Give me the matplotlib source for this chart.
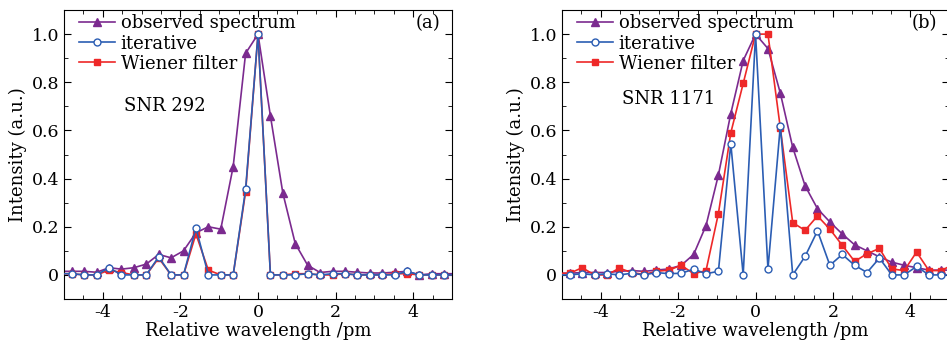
import matplotlib
matplotlib.use('Agg')
import matplotlib.pyplot as plt
import numpy as np
from matplotlib.ticker import MultipleLocator, FuncFormatter

plt.rcParams['font.family'] = 'DejaVu Serif'
plt.rcParams['mathtext.fontset'] = 'dejavuserif'

# sample grid: step 0.32 pm, k = -16..16
wl = np.arange(-16, 17) * 0.32

# panel (a), SNR 292
obs_a = [0.015, 0.015, 0.015, 0.011, 0.03, 0.024, 0.03, 0.045, 0.085, 0.071, 0.10, 0.175, 0.20, 0.19,
         0.45, 0.92, 1.0, 0.66, 0.34, 0.13, 0.04, 0.01, 0.015, 0.015, 0.011, 0.008, 0.008, 0.011,
         0.015, 0.0, 0.005, 0.005, 0.005]
itr_a = [0.005, 0.005, 0.0, 0.0, 0.03, 0.0, 0.0, 0.0, 0.075, 0.0, 0.0, 0.195, 0.0, 0.0,
         0.0, 0.355, 1.0, 0.0, 0.0, 0.0, 0.005, 0.0, 0.005, 0.005, 0.0, 0.0, 0.0, 0.0,
         0.015, 0.0, 0.0, 0.0, 0.0]
wie_a = [0.005, 0.005, 0.0, 0.0, 0.02, 0.01, 0.0, 0.0, 0.07, 0.0, 0.0, 0.17, 0.02, 0.0,
         0.0, 0.345, 1.0, 0.0, 0.0, 0.005, 0.005, 0.0, 0.0, 0.005, 0.0, 0.0, 0.0, 0.005,
         0.005, 0.0, 0.0, 0.0, 0.0]

# panel (b), SNR 1171
obs_b = [0.007, 0.007, 0.01, 0.01, 0.01, 0.015, 0.018, 0.015, 0.02, 0.025, 0.04, 0.085, 0.205, 0.415,
         0.67, 0.89, 1.0, 0.94, 0.755, 0.53, 0.37, 0.275, 0.22, 0.17, 0.125, 0.10, 0.075, 0.053,
         0.04, 0.03, 0.02, 0.02, 0.02]
itr_b = [0.0, 0.0, 0.005, 0.0, 0.005, 0.0, 0.007, 0.0, 0.01, 0.005, 0.007, 0.024, 0.005, 0.015,
         0.545, 0.0, 1.0, 0.025, 0.62, 0.0, 0.077, 0.183, 0.04, 0.085, 0.04, 0.01, 0.07, 0.0,
         0.0, 0.035, 0.0, 0.0, 0.0]
wie_b = [0.007, 0.007, 0.03, 0.0, 0.0, 0.028, 0.01, 0.002, 0.015, 0.02, 0.04, 0.005, 0.018, 0.255,
         0.59, 0.795, 1.0, 1.0, 0.61, 0.217, 0.185, 0.245, 0.19, 0.123, 0.056, 0.088, 0.11, 0.025,
         0.018, 0.095, 0.018, 0.018, 0.045]

c_obs = '#7b2a8f'
c_itr = '#2b5db3'
c_wie = '#ee2828'

fig = plt.figure(figsize=(9.47, 3.44), dpi=100)
ax_a = fig.add_axes([0.0676, 0.1308, 0.4097, 0.840])
ax_b = fig.add_axes([0.5935, 0.1308, 0.4087, 0.840])

def draw(ax, obs, itr, wie, snr, tag, snr_y):
    ax.plot(wl, obs, color=c_obs, marker='^', ms=5.5, lw=1.2, label='observed spectrum', zorder=2)
    ax.plot(wl, wie, color=c_wie, marker='s', ms=4.5, lw=1.2, label='Wiener filter', zorder=3)
    ax.plot(wl, itr, color=c_itr, marker='o', ms=5, lw=1.2, mfc='white', mec=c_itr,
            label='iterative', zorder=4)
    ax.set_xlim(-5, 5)
    ax.set_ylim(-0.1, 1.1)
    ax.xaxis.set_major_locator(MultipleLocator(2))
    ax.xaxis.set_minor_locator(MultipleLocator(0.5))
    ax.yaxis.set_major_locator(MultipleLocator(0.2))
    ax.yaxis.set_minor_locator(MultipleLocator(0.1))
    ax.yaxis.set_major_formatter(FuncFormatter(lambda v, p: '0' if abs(v) < 1e-9 else '%.1f' % v))
    ax.xaxis.set_major_formatter(FuncFormatter(lambda v, p: '0' if abs(v) < 1e-9 else '%d' % v))
    ax.tick_params(which='both', direction='in', top=True, right=True, labelsize=12.5)
    ax.tick_params(which='major', length=5)
    ax.tick_params(which='minor', length=3)
    ax.set_xlabel('Relative wavelength /pm', fontsize=13, labelpad=1)
    ax.set_ylabel('Intensity (a.u.)', fontsize=13, labelpad=3)
    h, l = ax.get_legend_handles_labels()
    order = [0, 2, 1]
    ax.legend([h[i] for i in order], [l[i] for i in order], loc='upper left', frameon=False,
              fontsize=13, numpoints=1, handlelength=2.0, handletextpad=0.3,
              labelspacing=0.12, borderaxespad=0.0, bbox_to_anchor=(0.02, 1.01))
    ax.text(-3.45, snr_y, snr, fontsize=13, va='center', ha='left')
    ax.text(0.97, 0.955, tag, transform=ax.transAxes, fontsize=13, ha='right', va='center')

draw(ax_a, obs_a, itr_a, wie_a, 'SNR 292', '(a)', 0.70)
draw(ax_b, obs_b, itr_b, wie_b, 'SNR 1171', '(b)', 0.73)

fig.savefig('out.png', dpi=100)
